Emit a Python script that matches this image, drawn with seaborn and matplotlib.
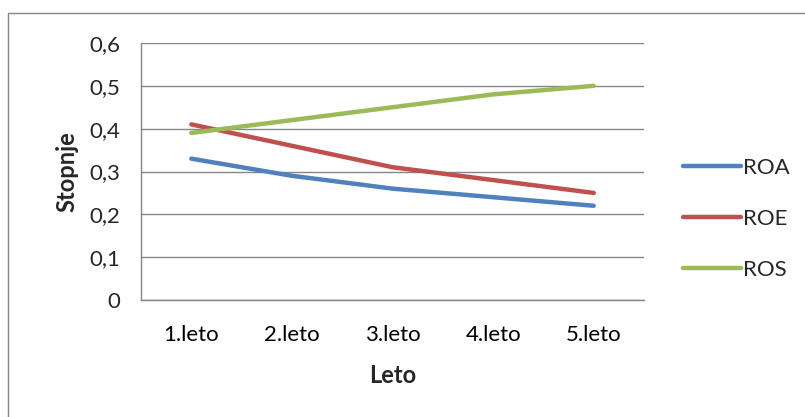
import pandas as pd
import matplotlib
matplotlib.use("Agg")
import matplotlib.pyplot as plt
import seaborn as sns
from matplotlib.patches import Rectangle
from matplotlib.ticker import FixedLocator, FuncFormatter

# -------------------------------
# Data
# -------------------------------
years = ["1.leto", "2.leto", "3.leto", "4.leto", "5.leto"]
roa = [0.33, 0.29, 0.26, 0.24, 0.22]
roe = [0.41, 0.36, 0.31, 0.28, 0.25]
ros = [0.39, 0.42, 0.45, 0.48, 0.50]
series_names = ["ROA", "ROE", "ROS"]
colors = ["#4F81BD", "#C0504D", "#9BBB59"]

df = pd.DataFrame({
    "Leto": years * 3,
    "x": list(range(len(years))) * 3,
    "Stopnje": roa + roe + ros,
    "serija": [n for n in series_names for _ in years],
})

# -------------------------------
# Plot
# -------------------------------
sns.set_theme(style="white")
plt.rcParams["font.family"] = ["Lato", "DejaVu Sans"]
grid_col = "#868686"

fig = plt.figure(figsize=(8.05, 4.17), dpi=100)
ax = fig.add_axes([141 / 805, 117 / 417, (644 - 141) / 805, (300 - 43) / 417])

sns.lineplot(data=df, x="x", y="Stopnje", hue="serija", palette=colors,
             linewidth=3.2, ax=ax, legend=True, sort=False)
for ln in ax.lines:
    ln.set_solid_capstyle("round")
    ln.set_solid_joinstyle("round")

ax.set_xlim(-0.5, len(years) - 0.5)
ax.set_ylim(0, 0.6)
ax.set_xticks(range(len(years)))
ax.set_xticklabels(years)
ax.xaxis.set_minor_locator(FixedLocator([i - 0.5 for i in range(len(years) + 1)]))
ax.tick_params(axis="x", which="major", length=0, pad=18, labelsize=16, colors="black")
ax.tick_params(axis="x", which="minor", length=7, width=1, color=grid_col, direction="out")
ax.set_yticks([0, 0.1, 0.2, 0.3, 0.4, 0.5, 0.6])
ax.yaxis.set_major_formatter(FuncFormatter(lambda v, p: f"{v:.1f}".replace(".", ",") if v else "0"))
ax.tick_params(axis="y", length=8, width=1, color=grid_col, direction="out", pad=7, labelsize=16)

ax.grid(axis="y", color=grid_col, linewidth=1)
ax.set_axisbelow(True)
for s in ["top", "right"]:
    ax.spines[s].set_visible(False)
for s in ["left", "bottom"]:
    ax.spines[s].set_color(grid_col)
    ax.spines[s].set_linewidth(1)

ax.set_xlabel("Leto", fontsize=17, fontweight="bold", labelpad=14)
ax.set_ylabel("Stopnje", fontsize=17, fontweight="bold", labelpad=8)

handles, labels = ax.get_legend_handles_labels()
for h in handles:
    h.set_linewidth(3.2)
    h.set_solid_capstyle("round")
ax.legend(handles, labels, loc="center left", bbox_to_anchor=(674 / 805, 1 - 219 / 417),
          bbox_transform=fig.transFigure, frameon=False, fontsize=16,
          handlelength=2.6, handletextpad=0.1, labelspacing=1.4, borderaxespad=0)

# outer chart border (cut off on right/bottom)
fig.patches.append(Rectangle((8 / 805, -0.05), 1.0, 1 - 13 / 417 + 0.05,
                             transform=fig.transFigure, fill=False,
                             edgecolor=grid_col, linewidth=1))

fig.savefig("out.png", dpi=100)
